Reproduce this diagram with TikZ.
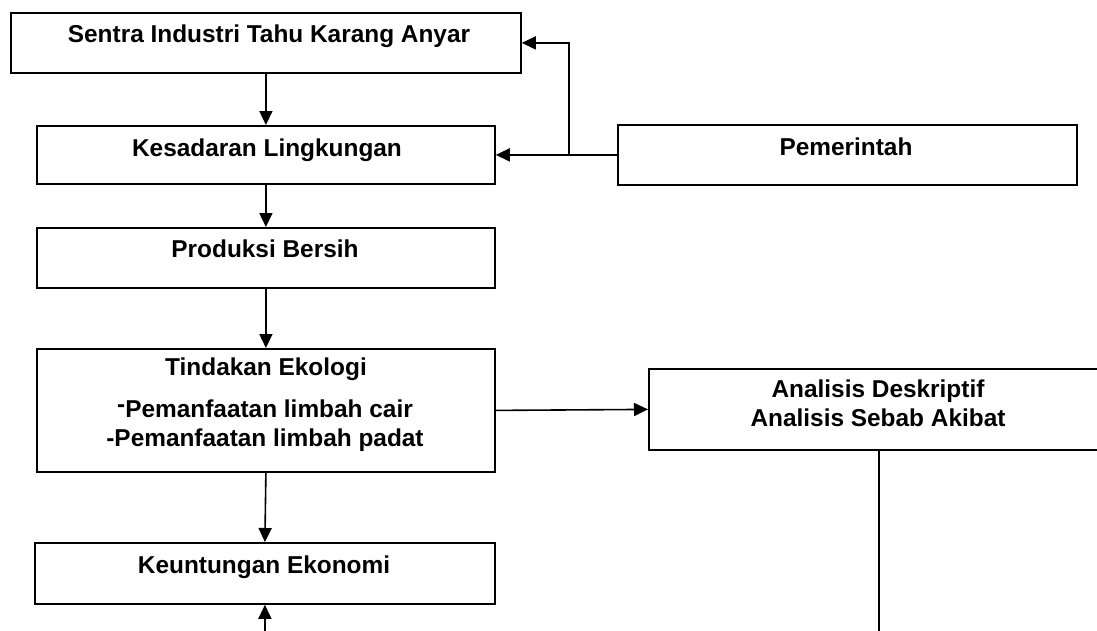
\documentclass[tikz,border=0pt]{standalone}
\usepackage{fontspec}
\setmainfont{Liberation Sans}
\usetikzlibrary{arrows.meta}
\begin{document}
\begin{tikzpicture}[x=1pt,y=-1pt,
 box/.style={draw, line width=1.8pt, rectangle, inner sep=0pt, anchor=north west},
 lbl/.style={font=\fontsize{24.4}{29}\selectfont\bfseries, anchor=base, inner sep=0pt},
 conn/.style={line width=1.6pt, -{Triangle[length=14pt,width=13pt]}},
 plain/.style={line width=1.6pt}]
\useasboundingbox (0,0) rectangle (1097,630);
\clip (0,0) rectangle (1097,630);
% boxes
\node[box, minimum width=510pt, minimum height=60pt] (s) at (10,12) {};
\node[box, minimum width=458pt, minimum height=58pt] (k) at (36,125) {};
\node[box, minimum width=458pt, minimum height=60pt] (pb) at (36,227) {};
\node[box, minimum width=459pt, minimum height=60pt] (p) at (617,124) {};
\node[box, minimum width=458pt, minimum height=123pt] (t) at (36,348) {};
\node[box, minimum width=460pt, minimum height=61pt] (ku) at (34,542) {};
\node[box, minimum width=460pt, minimum height=81pt] (a) at (648,368) {};
% texts
\node[lbl] (st) at (269,42) {Sentra Industri Tahu Karang Anyar};
\node[lbl] (kt) at (267,156) {Kesadaran Lingkungan};
\node[lbl] (pbt) at (265,257) {Produksi Bersih};
\node[lbl] (pt) at (846,155) {Pemerintah};
\node[lbl] (tt1) at (266,375) {Tindakan Ekologi};
\node[lbl] (tt2) at (265,417) {\raisebox{5pt}{-}Pemanfaatan limbah cair};
\node[lbl] (tt3) at (265,446) {-Pemanfaatan limbah padat};
\node[lbl] (kut) at (264,573) {Keuntungan Ekonomi};
\node[lbl] (at1) at (878,397) {Analisis Deskriptif};
\node[lbl] (at2) at (878,426) {Analisis Sebab Akibat};
% connectors
\draw[conn] (s.south) -- (k.north);
\draw[conn] (k.south) -- (pb.north);
\draw[conn] (pb.south) -- (t.north);
\draw[conn] (t.south) -- (ku.north);
\coordinate (j) at ([xshift=-48pt]p.west);
\draw[conn] (p.west) -- (k.east);
\draw[conn] (j) |- (s.east);
\draw[conn] (t.east) -- (a.west);
\coordinate (ae) at ([yshift=-190pt]a.south);
\draw[plain] (a.south) -- (ae);
\coordinate (ke) at ([yshift=-35pt]ku.south);
\draw[conn] (ke) -- (ku.south);
\end{tikzpicture}
\end{document}
